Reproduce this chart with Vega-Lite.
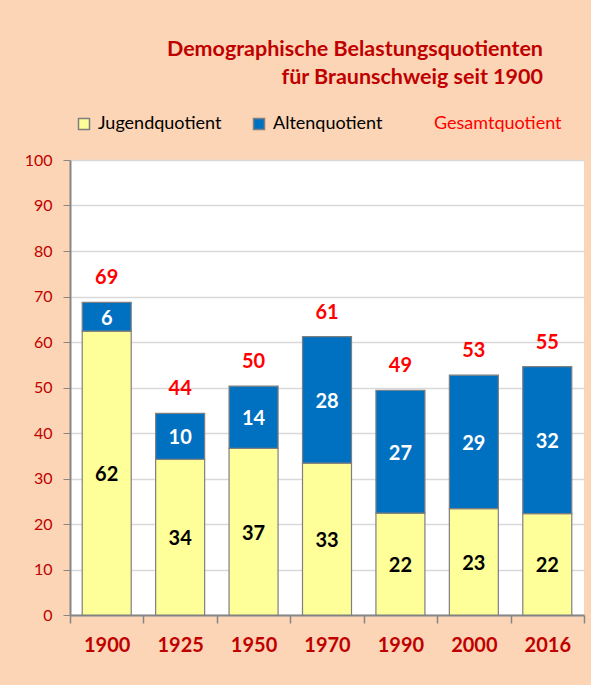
{
  "$schema": "https://vega.github.io/schema/vega-lite/v6.json",
  "width": 514,
  "height": 455,
  "autosize": {"type": "none"},
  "padding": {"left": 70, "top": 160, "right": 7, "bottom": 70},
  "background": "#FBD5B5",
  "config": {"view": {"stroke": null, "fill": "white"}, "font": "Lato"},
  "title": {
    "text": ["Demographische Belastungsquotienten", "für Braunschweig seit 1900"],
    "anchor": "end",
    "frame": "group",
    "color": "#C00000",
    "fontSize": 21.5,
    "fontWeight": "bold",
    "lineHeight": 28,
    "offset": 27,
    "dx": -41
  },
  "data": {
    "values": [
      {"year": "1900", "type": "Jugendquotient", "value": 62.4},
      {"year": "1900", "type": "Altenquotient", "value": 6.3},
      {"year": "1925", "type": "Jugendquotient", "value": 34.2},
      {"year": "1925", "type": "Altenquotient", "value": 10.1},
      {"year": "1950", "type": "Jugendquotient", "value": 36.6},
      {"year": "1950", "type": "Altenquotient", "value": 13.7},
      {"year": "1970", "type": "Jugendquotient", "value": 33.4},
      {"year": "1970", "type": "Altenquotient", "value": 27.8},
      {"year": "1990", "type": "Jugendquotient", "value": 22.4},
      {"year": "1990", "type": "Altenquotient", "value": 27.0},
      {"year": "2000", "type": "Jugendquotient", "value": 23.4},
      {"year": "2000", "type": "Altenquotient", "value": 29.3},
      {"year": "2016", "type": "Jugendquotient", "value": 22.3},
      {"year": "2016", "type": "Altenquotient", "value": 32.3}
    ]
  },
  "layer": [
    {
      "transform": [
        {"stack": "value", "groupby": ["year"], "sort": [{"field": "type", "order": "descending"}], "as": ["v0", "v1"]}
      ],
      "mark": {"type": "bar", "stroke": "#7F7F7F", "strokeWidth": 1.2, "width": 49},
      "encoding": {
        "x": {
          "field": "year", "type": "ordinal",
          "scale": {"paddingInner": 0, "paddingOuter": 0},
          "axis": {
            "title": null, "labelAngle": 0, "labelColor": "#C00000", "labelFontWeight": "bold",
            "labelFontSize": 20, "labelPadding": 12, "tickBand": "extent", "tickSize": 8,
            "tickColor": "#868686", "domainColor": "#868686", "domainWidth": 2, "tickWidth": 1.5, "grid": false
          }
        },
        "y": {
          "field": "v0", "type": "quantitative",
          "scale": {"domain": [0, 100], "nice": false},
          "axis": {
            "title": null, "values": [0, 10, 20, 30, 40, 50, 60, 70, 80, 90, 100],
            "labelColor": "#C00000", "labelFontSize": 16, "labelPadding": 11,
            "tickSize": 7, "tickColor": "#868686", "domainColor": "#868686", "domainWidth": 2,
            "gridColor": "#D9D9D9", "gridWidth": 1.5
          }
        },
        "y2": {"field": "v1"},
        "color": {
          "field": "type", "type": "nominal",
          "scale": {"domain": ["Jugendquotient", "Altenquotient", "Gesamtquotient"], "range": ["#FFFF99", "#0070C0", "transparent"]},
          "legend": {
            "title": null, "orient": "none", "direction": "horizontal", "legendX": 5, "legendY": -45,
            "symbolType": "square", "symbolSize": 121, "symbolStrokeColor": "#7F7F7F", "symbolStrokeWidth": 1.5,
            "labelFontSize": 18, "labelColor": "black", "labelLimit": 300, "columnPadding": 28, "labelOffset": 5,
            "encode": {
              "labels": {"update": {"fill": {"signal": "datum.label === 'Gesamtquotient' ? '#FF0000' : 'black'"}}},
              "symbols": {"update": {"strokeOpacity": {"signal": "datum.label === 'Gesamtquotient' ? 0 : 1"}}}
            }
          }
        }
      }
    },
    {
      "transform": [
        {"stack": "value", "groupby": ["year"], "sort": [{"field": "type", "order": "descending"}], "as": ["v0", "v1"]},
        {"calculate": "(datum.v0 + datum.v1) / 2", "as": "mid"}
      ],
      "mark": {"type": "text", "fontWeight": "bold", "fontSize": 20, "baseline": "middle", "dy": 2},
      "encoding": {
        "x": {"field": "year", "type": "ordinal"},
        "y": {"field": "mid", "type": "quantitative"},
        "text": {"field": "value", "type": "quantitative", "format": ".0f"},
        "color": {"condition": {"test": "datum.type === 'Altenquotient'", "value": "white"}, "value": "black"}
      }
    },
    {
      "mark": {"type": "text", "fontWeight": "bold", "fontSize": 20, "baseline": "middle", "dy": -24, "color": "#FF0000"},
      "encoding": {
        "x": {"field": "year", "type": "ordinal"},
        "y": {"aggregate": "sum", "field": "value", "type": "quantitative"},
        "text": {"aggregate": "sum", "field": "value", "type": "quantitative", "format": ".0f"}
      }
    }
  ]
}
